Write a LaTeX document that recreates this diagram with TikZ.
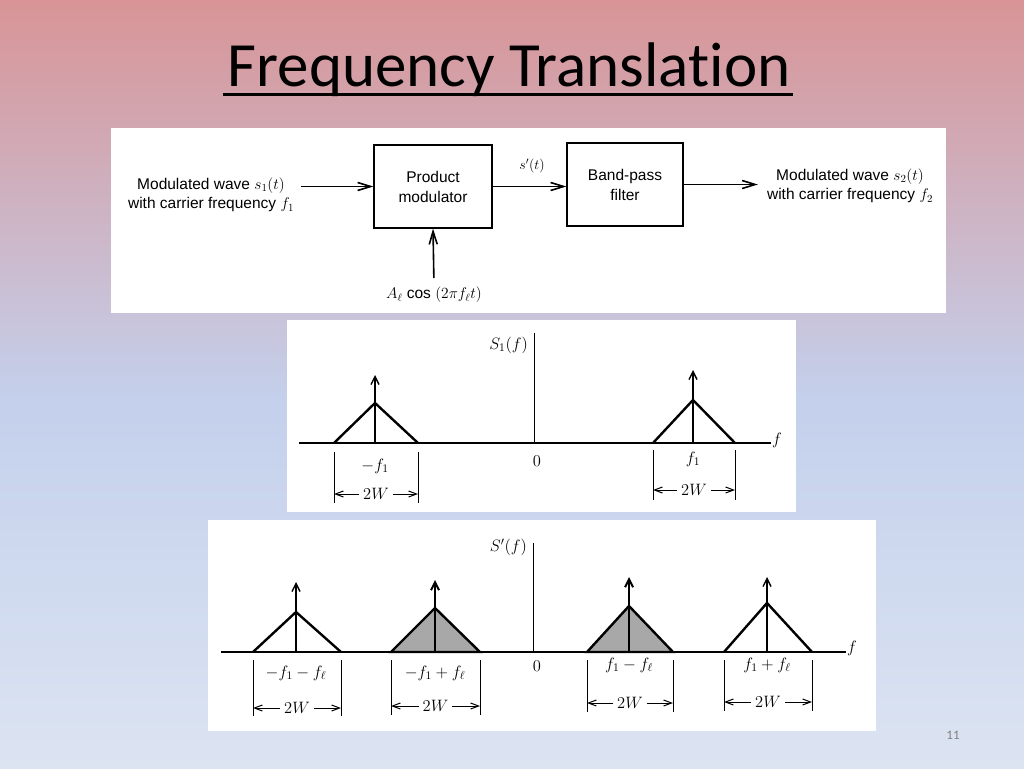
\RequirePackage{fix-cm}
\documentclass[tikz,border=0pt]{standalone}
\usepackage{fontspec}
\usetikzlibrary{arrows.meta}
\newfontfamily\titlefont{Carlito}[Ligatures={NoCommon}]
\newfontfamily\blockfont{Liberation Sans}
\definecolor{bgtop}{RGB}{216,148,150}
\definecolor{bgmid}{RGB}{196,208,236}
\definecolor{bgbot}{RGB}{220,228,242}
\definecolor{stipple}{RGB}{168,168,168}
\begin{document}
\begin{tikzpicture}[x=1pt,y=-1pt,
  arr/.style={-{Straight Barb[length=13pt,width=8pt]}, line width=1.6pt},
  box/.style={draw, line width=1.3pt, minimum width=118pt, minimum height=83pt,
    font=\blockfont\fontsize{15.5}{20}\selectfont, align=center, inner sep=0pt},
  btxt/.style={font=\blockfont\fontsize{15.5}{19.5}\selectfont, align=center, inner sep=1pt},
  ptxt/.style={font=\fontsize{16.5}{18}\selectfont, inner sep=1pt},
  tri/.style={line width=2.4pt, line join=miter},
  shaded/.style={fill=stipple},
  imp/.style={-{Straight Barb[length=8pt,width=8pt]}, line width=1.4pt},
  axisline/.style={line width=2.6pt},
  thinline/.style={line width=0.9pt},
  dimarr/.style={-{Straight Barb[length=8pt,width=6pt]}, line width=1pt}
]
\useasboundingbox (0,0) rectangle (1024,768);
% background
\shade[top color=bgtop, bottom color=bgmid] (0,0) rectangle (1024,400);
\shade[top color=bgmid, bottom color=bgbot] (0,399.5) rectangle (1024,768);
% title
\node[font=\titlefont\fontsize{63}{72}\selectfont, anchor=base, inner sep=0pt] (title) at (509,86) {Frequency Translation};
\draw[line width=3pt] ([xshift=-4pt,yshift=-8pt]title.base west) -- ([xshift=2pt,yshift=-8pt]title.base east);
% panels
\fill[white] (111,128) rectangle (946,313);
\fill[white] (287,320) rectangle (796,512);
\fill[white] (208,520) rectangle (876,731);

% ---------- block diagram ----------
\node[box] (pm) at (433,186.5) {Product\\modulator};
\node[box, minimum width=116pt] (bpf) at (625,184.5) {Band-pass\\filter};
\node[btxt] (in1) at (211,195) {Modulated wave $s_1(t)$\\with carrier frequency $f_1$};
\node[btxt] (out) at (850,186) {Modulated wave $s_2(t)$\\with carrier frequency $f_2$};
\node[btxt] (osc) at (434,295) {$A_\ell$ cos $(2\pi f_\ell t)$};
\node[ptxt, font=\fontsize{14}{16}\selectfont] (sp) at (532,166) {$s'(t)$};
\draw[arr, shorten <=6pt] (in1.east |- pm.west) -- (pm.west);
\draw[arr, shorten <=8pt] (osc.north) -- (pm.south);
\draw[arr] (pm.east) -- (pm.east -| bpf.west);
\draw[arr, shorten >=8pt] (bpf.east) -- (bpf.east -| out.west);

% ---------- spectrum S1(f) ----------
\node[ptxt, anchor=west] (fa) at (771,440) {$f$};
\coordinate (a0) at (299,443);
\draw[axisline] (a0) -- (fa.west |- a0);
\node[ptxt, anchor=east] (S1) at (529,345) {$S_1(f)$};
\coordinate (v1t) at (534,333); \coordinate (v1b) at (534,443);
\draw[thinline] (v1t) -- (v1b);
\draw[tri] (334,443) -- (375,403) -- (418,443);
\draw[imp] (375,443) -- (375,375);
\draw[tri] (653,443) -- (693,400) -- (735,443);
\draw[imp] (693,443) -- (693,370);
\node[ptxt] (lm) at (375,466) {$-f_1$};
\node[ptxt] (l0) at (537,461) {$0$};
\node[ptxt] (lp) at (693,459) {$f_1$};
\draw[thinline] (334,452) -- (334,503);
\draw[thinline] (418,452) -- (418,503);
\node[ptxt] (w1) at (376,494) {$2W$};
\coordinate (w1l) at (334,494); \coordinate (w1r) at (418,494);
\draw[dimarr, shorten <=3pt] (w1.west) -- (w1l);
\draw[dimarr, shorten <=3pt] (w1.east) -- (w1r);
\draw[thinline] (653,450) -- (653,500);
\draw[thinline] (735,450) -- (735,500);
\node[ptxt] (w2) at (694,490) {$2W$};
\coordinate (w2l) at (653,490); \coordinate (w2r) at (735,490);
\draw[dimarr, shorten <=3pt] (w2.west) -- (w2l);
\draw[dimarr, shorten <=3pt] (w2.east) -- (w2r);

% ---------- spectrum S'(f) ----------
\node[ptxt, anchor=west] (fb) at (846,648) {$f$};
\coordinate (b0) at (221,652);
\draw[axisline] (b0) -- (fb.west |- b0);
\node[ptxt, anchor=east] (S2) at (528,547) {$S'(f)$};
\coordinate (v2t) at (533,543); \coordinate (v2b) at (533,652);
\draw[thinline] (v2t) -- (v2b);
% triangles
\draw[tri] (253,652) -- (296,612) -- (341,652);
\draw[imp] (296,652) -- (296,582);
\draw[tri, shaded] (391,652) -- (435,608) -- (480,652) -- cycle;
\draw[imp, line width=2pt] (435,652) -- (435,580);
\draw[tri, shaded] (587,652) -- (629,606) -- (673,652) -- cycle;
\draw[imp, line width=2pt] (629,652) -- (629,577);
\draw[tri] (724,652) -- (767,603) -- (812,652);
\draw[imp] (767,652) -- (767,577);
% labels
\node[ptxt] (q1) at (296,673) {$-f_1-f_\ell$};
\node[ptxt] (q2) at (435,673) {$-f_1+f_\ell$};
\node[ptxt] (q0) at (537,666) {$0$};
\node[ptxt] (q3) at (629,665) {$f_1-f_\ell$};
\node[ptxt] (q4) at (767,665) {$f_1+f_\ell$};
% dimension lines
\foreach \xl/\xr/\yb/\ya/\nm in {253/341/716/708/d1, 391/480/715/706/d2, 587/673/712/703/d3, 724/812/711/702/d4}{
  \draw[thinline] (\xl,660) -- (\xl,\yb);
  \draw[thinline] (\xr,660) -- (\xr,\yb);
  \node[ptxt] (\nm) at ({(\xl+\xr)/2},\ya) {$2W$};
  \coordinate (\nm l) at (\xl,\ya); \coordinate (\nm r) at (\xr,\ya);
  \draw[dimarr, shorten <=3pt] (\nm.west) -- (\nm l);
  \draw[dimarr, shorten <=3pt] (\nm.east) -- (\nm r);
}
% slide number
\node[font=\titlefont\fontsize{13}{15}\selectfont, text=gray] (pg) at (953,735) {11};
\end{tikzpicture}
\end{document}
